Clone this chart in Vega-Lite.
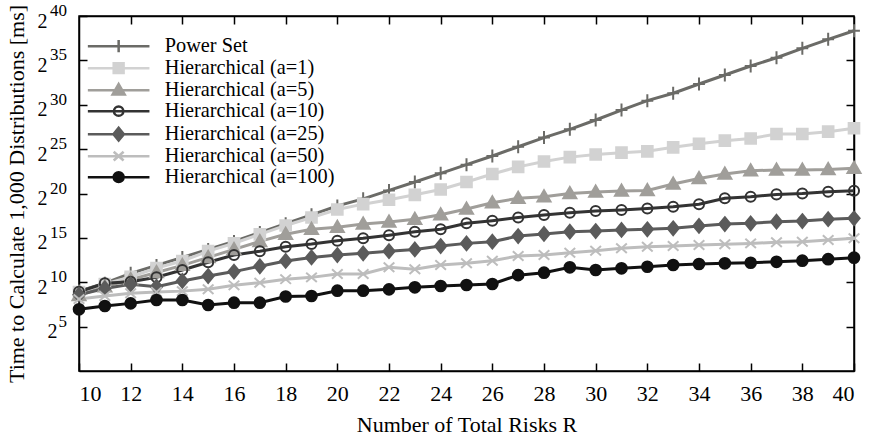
{
  "$schema": "https://vega.github.io/schema/vega-lite/v6.json",
  "width": 775,
  "height": 355,
  "autosize": {"type": "none"},
  "padding": {"left": 79, "top": 16, "right": 19, "bottom": 68},
  "background": "white",
  "config": {
    "font": "Liberation Serif",
    "view": {"stroke": "black", "strokeWidth": 1.5},
    "axis": {
      "domainColor": "black", "domainWidth": 1.5, "tickColor": "black", "tickWidth": 1.5, "tickSize": -8,
      "labelFont": "Liberation Serif", "labelFontSize": 22, "labelColor": "black",
      "titleFont": "Liberation Serif", "titleFontSize": 22, "titleFontWeight": "normal", "titleColor": "black",
      "grid": false
    },
    "legend": {
      "orient": "none", "legendX": 29.5, "legendY": 20, "padding": 0,
      "labelFont": "Liberation Serif", "labelFontSize": 20.3, "labelColor": "black", "labelLimit": 500,
      "symbolSize": 121, "symbolStrokeWidth": 2.5, "labelOffset": 36, "rowPadding": 0
    }
  },
  "data": {
    "values": [
      {"risks":10,"method":"Power Set","log2_ms":9.0},{"risks":11,"method":"Power Set","log2_ms":9.9},{"risks":12,"method":"Power Set","log2_ms":11.0},{"risks":13,"method":"Power Set","log2_ms":11.9},{"risks":14,"method":"Power Set","log2_ms":12.8},{"risks":15,"method":"Power Set","log2_ms":13.7},{"risks":16,"method":"Power Set","log2_ms":14.6},{"risks":17,"method":"Power Set","log2_ms":15.6},{"risks":18,"method":"Power Set","log2_ms":16.6},{"risks":19,"method":"Power Set","log2_ms":17.6},{"risks":20,"method":"Power Set","log2_ms":18.6},{"risks":21,"method":"Power Set","log2_ms":19.4},{"risks":22,"method":"Power Set","log2_ms":20.35},{"risks":23,"method":"Power Set","log2_ms":21.3},{"risks":24,"method":"Power Set","log2_ms":22.27},{"risks":25,"method":"Power Set","log2_ms":23.25},{"risks":26,"method":"Power Set","log2_ms":24.23},{"risks":27,"method":"Power Set","log2_ms":25.27},{"risks":28,"method":"Power Set","log2_ms":26.3},{"risks":29,"method":"Power Set","log2_ms":27.23},{"risks":30,"method":"Power Set","log2_ms":28.28},{"risks":31,"method":"Power Set","log2_ms":29.4},{"risks":32,"method":"Power Set","log2_ms":30.46},{"risks":33,"method":"Power Set","log2_ms":31.3},{"risks":34,"method":"Power Set","log2_ms":32.34},{"risks":35,"method":"Power Set","log2_ms":33.35},{"risks":36,"method":"Power Set","log2_ms":34.37},{"risks":37,"method":"Power Set","log2_ms":35.3},{"risks":38,"method":"Power Set","log2_ms":36.36},{"risks":39,"method":"Power Set","log2_ms":37.37},{"risks":40,"method":"Power Set","log2_ms":38.34},
      {"risks":10,"method":"Hierarchical (a=1)","log2_ms":8.9},{"risks":11,"method":"Hierarchical (a=1)","log2_ms":9.8},{"risks":12,"method":"Hierarchical (a=1)","log2_ms":10.6},{"risks":13,"method":"Hierarchical (a=1)","log2_ms":11.6},{"risks":14,"method":"Hierarchical (a=1)","log2_ms":12.4},{"risks":15,"method":"Hierarchical (a=1)","log2_ms":13.5},{"risks":16,"method":"Hierarchical (a=1)","log2_ms":14.4},{"risks":17,"method":"Hierarchical (a=1)","log2_ms":15.4},{"risks":18,"method":"Hierarchical (a=1)","log2_ms":16.4},{"risks":19,"method":"Hierarchical (a=1)","log2_ms":17.3},{"risks":20,"method":"Hierarchical (a=1)","log2_ms":18.2},{"risks":21,"method":"Hierarchical (a=1)","log2_ms":18.8},{"risks":22,"method":"Hierarchical (a=1)","log2_ms":19.3},{"risks":23,"method":"Hierarchical (a=1)","log2_ms":19.85},{"risks":24,"method":"Hierarchical (a=1)","log2_ms":20.45},{"risks":25,"method":"Hierarchical (a=1)","log2_ms":21.3},{"risks":26,"method":"Hierarchical (a=1)","log2_ms":22.2},{"risks":27,"method":"Hierarchical (a=1)","log2_ms":23.0},{"risks":28,"method":"Hierarchical (a=1)","log2_ms":23.6},{"risks":29,"method":"Hierarchical (a=1)","log2_ms":24.1},{"risks":30,"method":"Hierarchical (a=1)","log2_ms":24.4},{"risks":31,"method":"Hierarchical (a=1)","log2_ms":24.6},{"risks":32,"method":"Hierarchical (a=1)","log2_ms":24.75},{"risks":33,"method":"Hierarchical (a=1)","log2_ms":25.2},{"risks":34,"method":"Hierarchical (a=1)","log2_ms":25.6},{"risks":35,"method":"Hierarchical (a=1)","log2_ms":25.95},{"risks":36,"method":"Hierarchical (a=1)","log2_ms":26.2},{"risks":37,"method":"Hierarchical (a=1)","log2_ms":26.7},{"risks":38,"method":"Hierarchical (a=1)","log2_ms":26.7},{"risks":39,"method":"Hierarchical (a=1)","log2_ms":26.97},{"risks":40,"method":"Hierarchical (a=1)","log2_ms":27.35},
      {"risks":10,"method":"Hierarchical (a=5)","log2_ms":8.5},{"risks":11,"method":"Hierarchical (a=5)","log2_ms":9.5},{"risks":12,"method":"Hierarchical (a=5)","log2_ms":10.3},{"risks":13,"method":"Hierarchical (a=5)","log2_ms":11.1},{"risks":14,"method":"Hierarchical (a=5)","log2_ms":11.9},{"risks":15,"method":"Hierarchical (a=5)","log2_ms":12.8},{"risks":16,"method":"Hierarchical (a=5)","log2_ms":13.7},{"risks":17,"method":"Hierarchical (a=5)","log2_ms":14.6},{"risks":18,"method":"Hierarchical (a=5)","log2_ms":15.4},{"risks":19,"method":"Hierarchical (a=5)","log2_ms":15.97},{"risks":20,"method":"Hierarchical (a=5)","log2_ms":16.2},{"risks":21,"method":"Hierarchical (a=5)","log2_ms":16.56},{"risks":22,"method":"Hierarchical (a=5)","log2_ms":16.8},{"risks":23,"method":"Hierarchical (a=5)","log2_ms":17.1},{"risks":24,"method":"Hierarchical (a=5)","log2_ms":17.6},{"risks":25,"method":"Hierarchical (a=5)","log2_ms":18.25},{"risks":26,"method":"Hierarchical (a=5)","log2_ms":18.96},{"risks":27,"method":"Hierarchical (a=5)","log2_ms":19.46},{"risks":28,"method":"Hierarchical (a=5)","log2_ms":19.64},{"risks":29,"method":"Hierarchical (a=5)","log2_ms":20.0},{"risks":30,"method":"Hierarchical (a=5)","log2_ms":20.17},{"risks":31,"method":"Hierarchical (a=5)","log2_ms":20.28},{"risks":32,"method":"Hierarchical (a=5)","log2_ms":20.35},{"risks":33,"method":"Hierarchical (a=5)","log2_ms":21.07},{"risks":34,"method":"Hierarchical (a=5)","log2_ms":21.7},{"risks":35,"method":"Hierarchical (a=5)","log2_ms":22.2},{"risks":36,"method":"Hierarchical (a=5)","log2_ms":22.57},{"risks":37,"method":"Hierarchical (a=5)","log2_ms":22.65},{"risks":38,"method":"Hierarchical (a=5)","log2_ms":22.65},{"risks":39,"method":"Hierarchical (a=5)","log2_ms":22.7},{"risks":40,"method":"Hierarchical (a=5)","log2_ms":22.84},
      {"risks":10,"method":"Hierarchical (a=10)","log2_ms":8.93},{"risks":11,"method":"Hierarchical (a=10)","log2_ms":9.88},{"risks":12,"method":"Hierarchical (a=10)","log2_ms":10.06},{"risks":13,"method":"Hierarchical (a=10)","log2_ms":10.56},{"risks":14,"method":"Hierarchical (a=10)","log2_ms":11.38},{"risks":15,"method":"Hierarchical (a=10)","log2_ms":12.25},{"risks":16,"method":"Hierarchical (a=10)","log2_ms":13.07},{"risks":17,"method":"Hierarchical (a=10)","log2_ms":13.5},{"risks":18,"method":"Hierarchical (a=10)","log2_ms":14.0},{"risks":19,"method":"Hierarchical (a=10)","log2_ms":14.3},{"risks":20,"method":"Hierarchical (a=10)","log2_ms":14.68},{"risks":21,"method":"Hierarchical (a=10)","log2_ms":14.95},{"risks":22,"method":"Hierarchical (a=10)","log2_ms":15.3},{"risks":23,"method":"Hierarchical (a=10)","log2_ms":15.7},{"risks":24,"method":"Hierarchical (a=10)","log2_ms":15.97},{"risks":25,"method":"Hierarchical (a=10)","log2_ms":16.64},{"risks":26,"method":"Hierarchical (a=10)","log2_ms":16.94},{"risks":27,"method":"Hierarchical (a=10)","log2_ms":17.3},{"risks":28,"method":"Hierarchical (a=10)","log2_ms":17.58},{"risks":29,"method":"Hierarchical (a=10)","log2_ms":17.84},{"risks":30,"method":"Hierarchical (a=10)","log2_ms":18.03},{"risks":31,"method":"Hierarchical (a=10)","log2_ms":18.14},{"risks":32,"method":"Hierarchical (a=10)","log2_ms":18.3},{"risks":33,"method":"Hierarchical (a=10)","log2_ms":18.5},{"risks":34,"method":"Hierarchical (a=10)","log2_ms":18.78},{"risks":35,"method":"Hierarchical (a=10)","log2_ms":19.46},{"risks":36,"method":"Hierarchical (a=10)","log2_ms":19.64},{"risks":37,"method":"Hierarchical (a=10)","log2_ms":19.9},{"risks":38,"method":"Hierarchical (a=10)","log2_ms":20.0},{"risks":39,"method":"Hierarchical (a=10)","log2_ms":20.2},{"risks":40,"method":"Hierarchical (a=10)","log2_ms":20.3},
      {"risks":10,"method":"Hierarchical (a=25)","log2_ms":8.6},{"risks":11,"method":"Hierarchical (a=25)","log2_ms":9.3},{"risks":12,"method":"Hierarchical (a=25)","log2_ms":9.77},{"risks":13,"method":"Hierarchical (a=25)","log2_ms":9.5},{"risks":14,"method":"Hierarchical (a=25)","log2_ms":10.15},{"risks":15,"method":"Hierarchical (a=25)","log2_ms":10.7},{"risks":16,"method":"Hierarchical (a=25)","log2_ms":11.2},{"risks":17,"method":"Hierarchical (a=25)","log2_ms":11.8},{"risks":18,"method":"Hierarchical (a=25)","log2_ms":12.4},{"risks":19,"method":"Hierarchical (a=25)","log2_ms":12.8},{"risks":20,"method":"Hierarchical (a=25)","log2_ms":13.07},{"risks":21,"method":"Hierarchical (a=25)","log2_ms":13.26},{"risks":22,"method":"Hierarchical (a=25)","log2_ms":13.5},{"risks":23,"method":"Hierarchical (a=25)","log2_ms":13.7},{"risks":24,"method":"Hierarchical (a=25)","log2_ms":14.08},{"risks":25,"method":"Hierarchical (a=25)","log2_ms":14.38},{"risks":26,"method":"Hierarchical (a=25)","log2_ms":14.57},{"risks":27,"method":"Hierarchical (a=25)","log2_ms":15.2},{"risks":28,"method":"Hierarchical (a=25)","log2_ms":15.44},{"risks":29,"method":"Hierarchical (a=25)","log2_ms":15.7},{"risks":30,"method":"Hierarchical (a=25)","log2_ms":15.77},{"risks":31,"method":"Hierarchical (a=25)","log2_ms":15.9},{"risks":32,"method":"Hierarchical (a=25)","log2_ms":15.97},{"risks":33,"method":"Hierarchical (a=25)","log2_ms":16.08},{"risks":34,"method":"Hierarchical (a=25)","log2_ms":16.34},{"risks":35,"method":"Hierarchical (a=25)","log2_ms":16.56},{"risks":36,"method":"Hierarchical (a=25)","log2_ms":16.64},{"risks":37,"method":"Hierarchical (a=25)","log2_ms":16.83},{"risks":38,"method":"Hierarchical (a=25)","log2_ms":16.9},{"risks":39,"method":"Hierarchical (a=25)","log2_ms":17.1},{"risks":40,"method":"Hierarchical (a=25)","log2_ms":17.2},
      {"risks":10,"method":"Hierarchical (a=50)","log2_ms":8.1},{"risks":11,"method":"Hierarchical (a=50)","log2_ms":8.45},{"risks":12,"method":"Hierarchical (a=50)","log2_ms":8.75},{"risks":13,"method":"Hierarchical (a=50)","log2_ms":8.9},{"risks":14,"method":"Hierarchical (a=50)","log2_ms":9.0},{"risks":15,"method":"Hierarchical (a=50)","log2_ms":9.2},{"risks":16,"method":"Hierarchical (a=50)","log2_ms":9.65},{"risks":17,"method":"Hierarchical (a=50)","log2_ms":9.95},{"risks":18,"method":"Hierarchical (a=50)","log2_ms":10.35},{"risks":19,"method":"Hierarchical (a=50)","log2_ms":10.55},{"risks":20,"method":"Hierarchical (a=50)","log2_ms":10.93},{"risks":21,"method":"Hierarchical (a=50)","log2_ms":10.93},{"risks":22,"method":"Hierarchical (a=50)","log2_ms":11.68},{"risks":23,"method":"Hierarchical (a=50)","log2_ms":11.46},{"risks":24,"method":"Hierarchical (a=50)","log2_ms":11.94},{"risks":25,"method":"Hierarchical (a=50)","log2_ms":12.13},{"risks":26,"method":"Hierarchical (a=50)","log2_ms":12.43},{"risks":27,"method":"Hierarchical (a=50)","log2_ms":12.96},{"risks":28,"method":"Hierarchical (a=50)","log2_ms":13.07},{"risks":29,"method":"Hierarchical (a=50)","log2_ms":13.33},{"risks":30,"method":"Hierarchical (a=50)","log2_ms":13.56},{"risks":31,"method":"Hierarchical (a=50)","log2_ms":13.82},{"risks":32,"method":"Hierarchical (a=50)","log2_ms":14.0},{"risks":33,"method":"Hierarchical (a=50)","log2_ms":14.08},{"risks":34,"method":"Hierarchical (a=50)","log2_ms":14.2},{"risks":35,"method":"Hierarchical (a=50)","log2_ms":14.27},{"risks":36,"method":"Hierarchical (a=50)","log2_ms":14.38},{"risks":37,"method":"Hierarchical (a=50)","log2_ms":14.5},{"risks":38,"method":"Hierarchical (a=50)","log2_ms":14.57},{"risks":39,"method":"Hierarchical (a=50)","log2_ms":14.76},{"risks":40,"method":"Hierarchical (a=50)","log2_ms":14.95},
      {"risks":10,"method":"Hierarchical (a=100)","log2_ms":6.95},{"risks":11,"method":"Hierarchical (a=100)","log2_ms":7.32},{"risks":12,"method":"Hierarchical (a=100)","log2_ms":7.62},{"risks":13,"method":"Hierarchical (a=100)","log2_ms":8.0},{"risks":14,"method":"Hierarchical (a=100)","log2_ms":8.0},{"risks":15,"method":"Hierarchical (a=100)","log2_ms":7.44},{"risks":16,"method":"Hierarchical (a=100)","log2_ms":7.7},{"risks":17,"method":"Hierarchical (a=100)","log2_ms":7.7},{"risks":18,"method":"Hierarchical (a=100)","log2_ms":8.4},{"risks":19,"method":"Hierarchical (a=100)","log2_ms":8.45},{"risks":20,"method":"Hierarchical (a=100)","log2_ms":9.05},{"risks":21,"method":"Hierarchical (a=100)","log2_ms":9.05},{"risks":22,"method":"Hierarchical (a=100)","log2_ms":9.2},{"risks":23,"method":"Hierarchical (a=100)","log2_ms":9.43},{"risks":24,"method":"Hierarchical (a=100)","log2_ms":9.58},{"risks":25,"method":"Hierarchical (a=100)","log2_ms":9.69},{"risks":26,"method":"Hierarchical (a=100)","log2_ms":9.8},{"risks":27,"method":"Hierarchical (a=100)","log2_ms":10.8},{"risks":28,"method":"Hierarchical (a=100)","log2_ms":11.08},{"risks":29,"method":"Hierarchical (a=100)","log2_ms":11.68},{"risks":30,"method":"Hierarchical (a=100)","log2_ms":11.38},{"risks":31,"method":"Hierarchical (a=100)","log2_ms":11.57},{"risks":32,"method":"Hierarchical (a=100)","log2_ms":11.75},{"risks":33,"method":"Hierarchical (a=100)","log2_ms":11.94},{"risks":34,"method":"Hierarchical (a=100)","log2_ms":12.06},{"risks":35,"method":"Hierarchical (a=100)","log2_ms":12.13},{"risks":36,"method":"Hierarchical (a=100)","log2_ms":12.2},{"risks":37,"method":"Hierarchical (a=100)","log2_ms":12.3},{"risks":38,"method":"Hierarchical (a=100)","log2_ms":12.43},{"risks":39,"method":"Hierarchical (a=100)","log2_ms":12.6},{"risks":40,"method":"Hierarchical (a=100)","log2_ms":12.77}
    ]
  },
  "layer": [
    {
      "mark": {"type": "line", "strokeWidth": 3},
      "encoding": {
        "x": {"field": "risks", "type": "quantitative", "scale": {"domain": [10, 40], "nice": false, "zero": false},
              "axis": {"orient": "bottom", "values": [10,12,14,16,18,20,22,24,26,28,30,32,34,36,38,40], "labelPadding": 20, "title": "Number of Total Risks R", "titlePadding": 10}},
        "y": {"field": "log2_ms", "type": "quantitative", "scale": {"domain": [0, 40], "nice": false, "zero": false},
              "axis": {"orient": "left", "values": [5,10,15,20,25,30,35,40], "labelFontSize": 20, "labelBaseline": "middle", "labelOffset": 5,
                       "labelPadding": {"condition": {"test": "datum.value < 10", "value": 30}, "value": 40},
                       "title": "Time to Calculate 1,000 Distributions [ms]", "titlePadding": 9,
                       "labelExpr": "'2'"}},
        "color": {"field": "method", "type": "nominal", "legend": null,
                  "scale": {"domain": ["Power Set","Hierarchical (a=1)","Hierarchical (a=5)","Hierarchical (a=10)","Hierarchical (a=25)","Hierarchical (a=50)","Hierarchical (a=100)"],
                            "range": ["#6b6b67","#d2d2d2","#a09e9a","#333333","#5b5b5b","#bdbdbd","#111111"]}}
      }
    },
    {
      "mark": {"type": "point", "size": 140, "strokeWidth": 2, "opacity": 1},
      "encoding": {
        "x": {"field": "risks", "type": "quantitative", "axis": null},
        "y": {"field": "log2_ms", "type": "quantitative", "axis": null},
        "stroke": {"field": "method", "type": "nominal", "legend": null,
                   "scale": {"domain": ["Power Set","Hierarchical (a=1)","Hierarchical (a=5)","Hierarchical (a=10)","Hierarchical (a=25)","Hierarchical (a=50)","Hierarchical (a=100)"],
                             "range": ["#6b6b67","#d2d2d2","#a09e9a","#333333","#5b5b5b","#bdbdbd","#111111"]}},
        "fill": {"field": "method", "type": "nominal", "legend": null,
                 "scale": {"domain": ["Power Set","Hierarchical (a=1)","Hierarchical (a=5)","Hierarchical (a=10)","Hierarchical (a=25)","Hierarchical (a=50)","Hierarchical (a=100)"],
                           "range": ["transparent","#d2d2d2","#a09e9a","transparent","#5b5b5b","transparent","#111111"]}},
        "shape": {"field": "method", "type": "nominal", "legend": null,
                  "scale": {"domain": ["Power Set","Hierarchical (a=1)","Hierarchical (a=5)","Hierarchical (a=10)","Hierarchical (a=25)","Hierarchical (a=50)","Hierarchical (a=100)"],
                            "range": ["M-1,0H1M0,-1.1V1.1","M-0.9,-0.9H0.9V0.9H-0.9Z","M0,-1.1L1.1,0.8L-1.1,0.8Z","M-0.85,0A0.85,0.85,0,1,0,0.85,0A0.85,0.85,0,1,0,-0.85,0Z","M0,-1.15L0.95,0L0,1.15L-0.95,0Z","M-0.9,-0.8L0.9,0.8M0.9,-0.8L-0.9,0.8","M-0.9,0A0.9,0.9,0,1,0,0.9,0A0.9,0.9,0,1,0,-0.9,0Z"]}}
      }
    },
    {
      "transform": [{"filter": "datum.risks < 0"}],
      "mark": {"type": "point", "size": 121, "strokeWidth": 2.5, "opacity": 1},
      "encoding": {
        "x": {"field": "risks", "type": "quantitative", "axis": null},
        "y": {"field": "log2_ms", "type": "quantitative", "axis": null},
        "stroke": {"field": "method", "type": "nominal", "legend": {"title": null},
                   "scale": {"domain": ["Power Set","Hierarchical (a=1)","Hierarchical (a=5)","Hierarchical (a=10)","Hierarchical (a=25)","Hierarchical (a=50)","Hierarchical (a=100)"],
                             "range": ["#6b6b67","#d2d2d2","#a09e9a","#333333","#5b5b5b","#bdbdbd","#111111"]}},
        "fill": {"field": "method", "type": "nominal", "legend": {"title": null},
                 "scale": {"domain": ["Power Set","Hierarchical (a=1)","Hierarchical (a=5)","Hierarchical (a=10)","Hierarchical (a=25)","Hierarchical (a=50)","Hierarchical (a=100)"],
                           "range": ["transparent","#d2d2d2","#a09e9a","transparent","#5b5b5b","transparent","#111111"]}},
        "shape": {"field": "method", "type": "nominal", "legend": {"title": null},
                  "scale": {"domain": ["Power Set","Hierarchical (a=1)","Hierarchical (a=5)","Hierarchical (a=10)","Hierarchical (a=25)","Hierarchical (a=50)","Hierarchical (a=100)"],
                            "range": ["M-5.6,0H5.6M0,-1.1V1.1","M-5.6,0H5.6M-0.9,-0.9H0.9V0.9H-0.9Z","M-5.6,0H5.6M0,-1.1L1.1,0.8L-1.1,0.8Z","M-5.6,0H5.6M-0.85,0A0.85,0.85,0,1,0,0.85,0A0.85,0.85,0,1,0,-0.85,0Z","M-5.6,0H5.6M0,-1.15L0.95,0L0,1.15L-0.95,0Z","M-5.6,0H5.6M-0.9,-0.8L0.9,0.8M0.9,-0.8L-0.9,0.8","M-5.6,0H5.6M-0.9,0A0.9,0.9,0,1,0,0.9,0A0.9,0.9,0,1,0,-0.9,0Z"]}}
      }
    },
    {
      "data": {"values": [{"exponent": 5}, {"exponent": 10}, {"exponent": 15}, {"exponent": 20}, {"exponent": 25}, {"exponent": 30}, {"exponent": 35}, {"exponent": 40}]},
      "mark": {"type": "text", "align": "right", "baseline": "middle", "dx": -12, "dy": -5, "font": "Liberation Serif", "fontSize": 17, "color": "black"},
      "encoding": {
        "x": {"datum": 10, "type": "quantitative", "axis": null},
        "y": {"field": "exponent", "type": "quantitative", "axis": null},
        "text": {"field": "exponent", "type": "quantitative"}
      }
    },
    {
      "mark": {"type": "point", "opacity": 0},
      "encoding": {
        "x": {"field": "risks", "type": "quantitative", "axis": {"orient": "top", "values": [12,14,16,18,20,22,24,26,28,30,32,34,36,38], "labels": false, "title": null}},
        "y": {"field": "log2_ms", "type": "quantitative", "axis": {"orient": "right", "values": [5,10,15,20,25,30,35], "labels": false, "title": null}}
      }
    }
  ],
  "resolve": {
    "scale": {"color": "independent", "stroke": "independent", "fill": "independent", "shape": "independent"},
    "axis": {"x": "independent", "y": "independent"}
  }
}
